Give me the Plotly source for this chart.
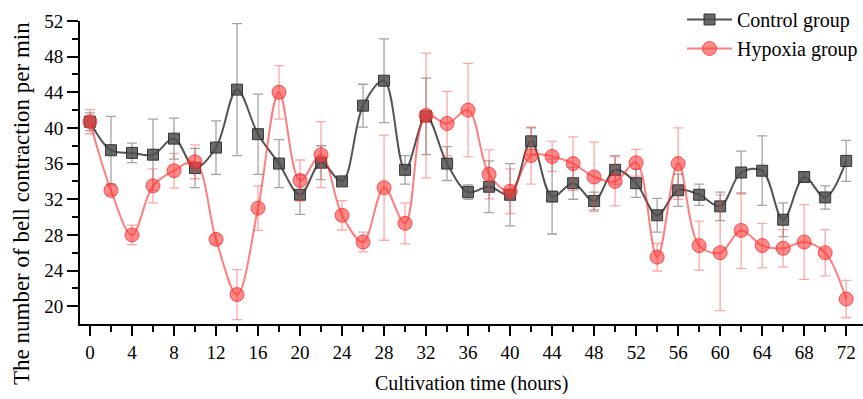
import plotly.graph_objects as go

hours = list(range(0, 73, 2))

control_mean = [40.7, 37.5, 37.2, 37.0, 38.8, 35.5, 37.8, 44.3, 39.3, 36.0,
                32.5, 36.1, 34.0, 42.5, 45.3, 35.3, 41.3, 36.0, 32.8, 33.4,
                32.5, 38.5, 32.3, 33.8, 31.8, 35.3, 33.8, 30.2, 33.0, 32.5,
                31.2, 35.0, 35.2, 29.7, 34.5, 32.2, 36.3]
control_err = [1.0, 3.8, 1.1, 4.0, 2.3, 2.2, 3.0, 7.4, 4.5, 2.7,
               2.2, 1.9, 0.3, 2.4, 4.7, 1.6, 4.3, 1.9, 0.8, 2.9,
               3.5, 1.5, 4.2, 1.8, 1.0, 1.6, 1.6, 1.9, 1.8, 1.2,
               1.6, 2.4, 3.9, 1.9, 0.5, 1.3, 2.3]

hypoxia_mean = [40.7, 33.0, 28.0, 33.5, 35.2, 36.2, 27.5, 21.3, 31.0, 44.0,
                34.1, 37.0, 30.2, 27.2, 33.3, 29.3, 41.4, 40.5, 42.0, 34.8,
                32.9, 36.9, 36.8, 36.0, 34.5, 34.0, 36.1, 25.5, 36.0, 26.8,
                26.0, 28.5, 26.8, 26.5, 27.2, 26.0, 20.8]
hypoxia_err = [1.35, 0.5, 1.1, 1.9, 1.95, 1.9, 0.5, 2.8, 2.5, 3.0,
               2.3, 3.7, 1.65, 1.1, 5.9, 2.3, 7.0, 3.6, 5.25, 2.75,
               2.5, 3.2, 1.7, 3.0, 3.9, 2.75, 1.5, 1.55, 4.0, 2.75,
               6.5, 4.25, 2.5, 2.1, 4.2, 2.6, 2.1]

x_ticks = list(range(0, 73, 4))
y_ticks = list(range(20, 53, 4))

font = "Liberation Serif, Times New Roman, serif"

fig = go.Figure()
fig.add_trace(go.Scatter(
    x=hours, y=control_mean, name="Control group", mode="lines+markers",
    line=dict(color="rgba(40,40,40,0.8)", width=2, shape="spline"),
    marker=dict(symbol="square", size=11, color="rgba(80,80,80,0.85)",
                line=dict(color="rgba(40,40,40,0.9)", width=1)),
    error_y=dict(type="data", array=control_err, color="rgba(90,90,90,0.55)",
                 thickness=1.3, width=5),
))
fig.add_trace(go.Scatter(
    x=hours, y=hypoxia_mean, name="Hypoxia group", mode="lines+markers",
    line=dict(color="rgba(255,40,40,0.6)", width=2, shape="spline"),
    marker=dict(symbol="circle", size=14, color="rgba(255,60,60,0.6)",
                line=dict(color="rgba(255,30,30,0.7)", width=1)),
    error_y=dict(type="data", array=hypoxia_err, color="rgba(255,80,80,0.5)",
                 thickness=1.3, width=5),
))

fig.update_layout(
    width=863, height=399,
    margin=dict(l=80, r=0, t=21, b=75),
    paper_bgcolor="white", plot_bgcolor="white",
    font=dict(family=font, color="black", size=19),
    showlegend=True,
    legend=dict(x=1, y=1.07, xanchor="right", yanchor="top",
                font=dict(size=20, family=font), bgcolor="rgba(0,0,0,0)",
                itemwidth=45, tracegroupgap=0),
    annotations=[
        dict(text="Cultivation time (hours)", xref="paper", yref="paper",
             x=0.5, y=0, yshift=-59, xanchor="center", yanchor="middle",
             showarrow=False, font=dict(size=20, family=font)),
        dict(text="The number of bell contraction per min", xref="paper", yref="paper",
             x=0, xshift=-59, y=0.396, xanchor="center", yanchor="middle",
             textangle=-90, showarrow=False, font=dict(size=23, family=font)),
    ],
)
fig.update_xaxes(
    range=[-0.95, 73.6], tickvals=x_ticks, ticktext=[str(v) for v in x_ticks],
    showgrid=False, zeroline=False, showline=True, linecolor="black", linewidth=2,
    ticks="outside", ticklen=10, tickwidth=1.5, tickcolor="black",
    minor=dict(tickvals=list(range(2, 73, 4)), ticks="outside", ticklen=6,
               tickwidth=1.5, tickcolor="black"),
)
fig.update_yaxes(
    range=[18, 52], tickvals=y_ticks, ticktext=[str(v) for v in y_ticks],
    showgrid=False, zeroline=False, showline=True, linecolor="black", linewidth=2,
    ticks="outside", ticklen=11, tickwidth=1.5, tickcolor="black",
    minor=dict(tickvals=list(range(22, 52, 4)), ticks="outside", ticklen=6,
               tickwidth=1.5, tickcolor="black"),
)

fig.write_html("out.html")
